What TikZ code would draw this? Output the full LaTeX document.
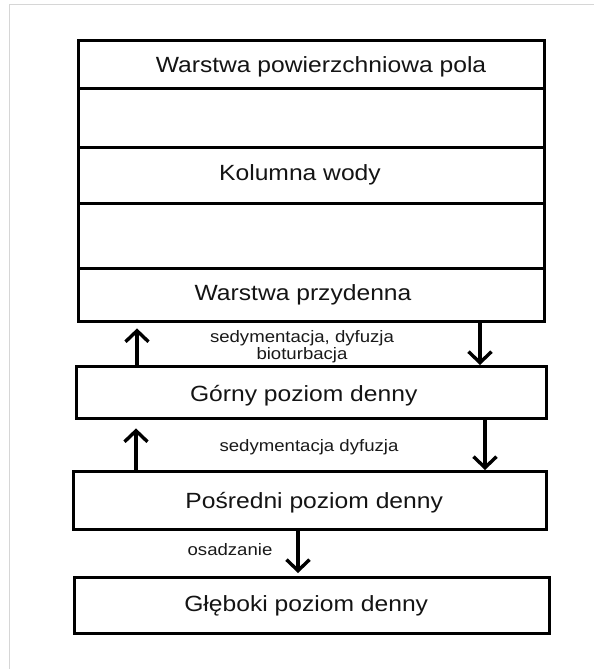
\documentclass[tikz,border=0pt]{standalone}
\usepackage{fontspec}
\setmainfont{Liberation Sans}[FakeStretch=1.12]
\usetikzlibrary{arrows.meta}
\begin{document}
\begin{tikzpicture}[x=1pt,y=-1pt,
  box/.style={draw=black,line width=3.4pt,inner sep=0pt,anchor=north west},
  big/.style={inner sep=0pt,text=black!92,font=\fontsize{22}{26}\selectfont},
  small/.style={inner sep=0pt,text=black!90,font=\fontsize{16.6}{19}\selectfont},
  flow/.style={line width=3.4pt,-{Straight Barb[length=11pt,width=23pt,line width=3.4pt]}}]
\useasboundingbox (0,0) rectangle (594,669);
% faint page frame
\draw[black!16,line width=1pt] (9,669) -- (9,5) -- (594,5);

% water column stack
\node[box,minimum width=466pt,minimum height=48pt] (r1) at (77,39) {};
\node[box,minimum width=466pt,minimum height=59pt] (r2) at (77,87) {};
\node[box,minimum width=466pt,minimum height=56pt] (r3) at (77,146) {};
\node[box,minimum width=466pt,minimum height=65pt] (r4) at (77,202) {};
\node[box,minimum width=466pt,minimum height=53pt] (r5) at (77,267) {};
\node[big] (t1) at (321,67) {Warstwa powierzchniowa pola};
\node[big] (t3) at (300,175) {Kolumna wody};
\node[big] (t5) at (303,295) {Warstwa przydenna};

% bottom levels
\node[box,minimum width=470pt,minimum height=52pt] (gorny) at (75,365) {};
\node[big] at (gorny.center) [xshift=-8pt,yshift=-3pt] (tg) {Górny poziom denny};
\node[box,minimum width=473pt,minimum height=58pt] (posr) at (72,470) {};
\node[big] at (posr.center) [xshift=4pt,yshift=-2pt] (tp) {Pośredni poziom denny};
\node[box,minimum width=475pt,minimum height=56pt] (gleb) at (73,576) {};
\node[big] at (gleb.center) [xshift=-6pt,yshift=0pt] (tgl) {Głęboki poziom denny};

% arrow columns
\coordinate (xa) at (137,0);
\coordinate (xb) at (480,0);
\coordinate (xc) at (136,0);
\coordinate (xd) at (485,0);
\coordinate (xe) at (298,0);

\draw[flow,shorten >=5pt] (gorny.north -| xa) -- (r5.south -| xa);
\draw[flow] (r5.south -| xb) -- (gorny.north -| xb);
\node[small] (l1) at (302,338) {sedymentacja, dyfuzja};
\node[small] (l2) at (302,355) {bioturbacja};

\draw[flow,shorten >=8pt] (posr.north -| xc) -- (gorny.south -| xc);
\draw[flow] (gorny.south -| xd) -- (posr.north -| xd);
\node[small] (l3) at (309,447) {sedymentacja dyfuzja};

\draw[flow,shorten >=3pt] (posr.south -| xe) -- (gleb.north -| xe);
\node[small] (l4) at (230,550) {osadzanie};
\end{tikzpicture}
\end{document}
